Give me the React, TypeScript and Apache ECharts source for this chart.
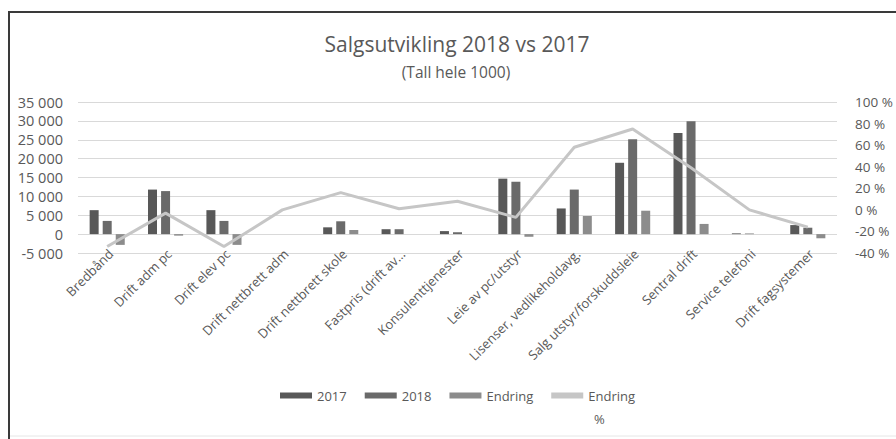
import React, { useEffect, useRef } from "react";
import * as echarts from "echarts";

const categories = [
  "Bredbånd",
  "Drift adm pc",
  "Drift elev pc",
  "Drift nettbrett adm",
  "Drift nettbrett skole",
  "Fastpris (drift av…",
  "Konsulenttjenester",
  "Leie av pc/utstyr",
  "Lisenser, vedlikeholdavg.",
  "Salg utstyr/forskuddsleie",
  "Sentral drift",
  "Service telefoni",
  "Drift fagsystemer",
];
const v2017 = [6350, 11800, 6350, 0, 1800, 1300, 800, 14700, 6800, 18900, 26800, 200, 2400];
const v2018 = [3500, 11400, 3500, 0, 3400, 1300, 500, 13900, 11800, 25100, 29900, 150, 1700];
const endring = [-2850, -400, -2850, 0, 1100, 0, 0, -700, 4800, 6200, 2700, 0, -1100];
const endringPct = [-34, -3, -34, 0, 16, 1, 8, -7, 58, 75, 39, 0, -16];

const FONT = "'Open Sans', 'Noto Sans', sans-serif";
const TXT = "#595959";

const fmtThousands = (v: number) => {
  const s = Math.abs(v).toString().replace(/\B(?=(\d{3})+(?!\d))/g, " ");
  return (v < 0 ? "-" : "") + s;
};

export default function App() {
  const ref = useRef<HTMLDivElement>(null);
  useEffect(() => {
    if (!ref.current) return;
    const chart = echarts.init(ref.current, undefined, { renderer: "svg" });
    chart.setOption({
      animation: false,
      backgroundColor: "#ffffff",
      textStyle: { fontFamily: FONT },
      grid: { left: 78, right: 59, top: 102, bottom: 186 },
      graphic: [
        { type: "line", shape: { x1: 8, y1: 12, x2: 896, y2: 12 }, style: { stroke: "#3a3a3a", lineWidth: 2 } },
        { type: "line", shape: { x1: 9, y1: 11, x2: 9, y2: 439 }, style: { stroke: "#3a3a3a", lineWidth: 2 } },
        { type: "line", shape: { x1: 10, y1: 436, x2: 896, y2: 436 }, style: { stroke: "#e6e6e6", lineWidth: 1 } },
        {
          type: "text",
          x: 457,
          y: 44,
          style: { text: "Salgsutvikling 2018 vs 2017", align: "center", verticalAlign: "middle", fontSize: 21, fill: TXT, fontFamily: FONT },
        },
        {
          type: "text",
          x: 456,
          y: 72,
          style: { text: "(Tall hele 1000)", align: "center", verticalAlign: "middle", fontSize: 15.5, fill: TXT, fontFamily: FONT },
        },
        {
          type: "text",
          x: 594,
          y: 419,
          style: { text: "%", align: "left", verticalAlign: "middle", fontSize: 13, fill: TXT, fontFamily: FONT },
        },
      ],
      legend: {
        left: 275,
        top: 384,
        itemWidth: 32,
        itemHeight: 6,
        itemGap: 18,
        textStyle: { fontSize: 13, color: TXT, fontFamily: FONT },
        formatter: (name: string) => (name === "Endring %" ? "Endring" : name),
        data: [
          { name: "2017", icon: "rect" },
          { name: "2018", icon: "rect" },
          { name: "Endring", icon: "rect" },
          { name: "Endring %", icon: "rect" },
        ],
      },
      xAxis: {
        type: "category",
        data: categories,
        axisLine: { show: false },
        axisTick: { show: false },
        axisLabel: {
          rotate: 45,
          fontSize: 13,
          color: TXT,
          fontFamily: FONT,
          margin: 2,
          padding: [0, -5, 0, 0],
          interval: 0,
        },
      },
      yAxis: [
        {
          type: "value",
          min: -5000,
          max: 35000,
          interval: 5000,
          axisLine: { show: false },
          axisTick: { show: false },
          splitLine: { lineStyle: { color: "#d9d9d9", width: 1 } },
          axisLabel: { formatter: (v: number) => fmtThousands(v), fontSize: 14.5, color: TXT, fontFamily: FONT, margin: 15 },
        },
        {
          type: "value",
          min: -40,
          max: 100,
          interval: 20,
          axisLine: { show: false },
          axisTick: { show: false },
          splitLine: { show: false },
          axisLabel: { formatter: (v: number) => `${v} %`, fontSize: 13.5, color: TXT, fontFamily: FONT, margin: 18 },
        },
      ],
      series: [
        { name: "2017", type: "bar", data: v2017, barWidth: 9, barGap: "45%", itemStyle: { color: "#585858" } },
        { name: "2018", type: "bar", data: v2018, barWidth: 9, barGap: "45%", itemStyle: { color: "#6a6a6a" } },
        { name: "Endring", type: "bar", data: endring, barWidth: 9, barGap: "45%", itemStyle: { color: "#8c8c8c" } },
        {
          name: "Endring %",
          type: "line",
          yAxisIndex: 1,
          data: endringPct,
          symbol: "none",
          showSymbol: false,
          lineStyle: { color: "#c6c6c6", width: 3 },
          itemStyle: { color: "#c6c6c6" },
        },
      ],
    });
    return () => chart.dispose();
  }, []);
  return (
    <div style={{ position: "fixed", left: 0, top: 0, width: 896, height: 439, background: "#fff" }}>
      <div ref={ref} style={{ width: 896, height: 439 }} />
    </div>
  );
}
